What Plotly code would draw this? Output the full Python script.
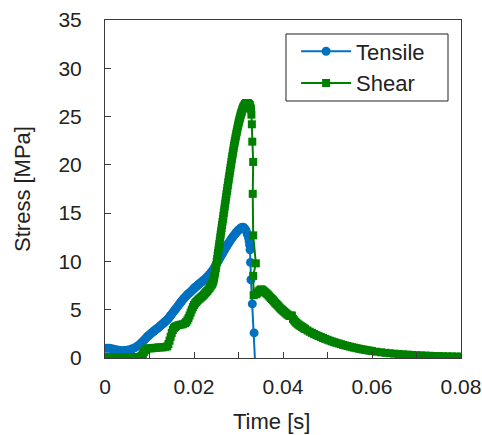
import plotly.graph_objects as go

# Tensile series (time [s], stress [MPa])
tensile_t = [0, 0.0005, 0.001, 0.0015, 0.002, 0.0025, 0.003, 0.0035, 0.004, 0.0045,
             0.005, 0.0055, 0.006, 0.0065, 0.007, 0.0075,
             0.008, 0.00825, 0.0085, 0.00875, 0.009, 0.00925, 0.0095, 0.00975,
             0.010, 0.01025, 0.0105, 0.01075, 0.011, 0.01125, 0.0115, 0.01175,
             0.012, 0.01225, 0.0125, 0.01275, 0.013, 0.01325, 0.0135, 0.01375,
             0.014, 0.01425, 0.0145, 0.01475, 0.015, 0.01525, 0.0155, 0.01575,
             0.016, 0.01625, 0.0165, 0.01675, 0.017, 0.01725, 0.0175, 0.01775,
             0.018, 0.01825, 0.0185, 0.01875, 0.019, 0.01925, 0.0195, 0.01975,
             0.020, 0.02025, 0.0205, 0.02075, 0.021, 0.02125, 0.0215, 0.02175,
             0.022, 0.02225, 0.0225, 0.02275, 0.023, 0.02325, 0.0235, 0.02375,
             0.024, 0.02425, 0.0245, 0.02475, 0.025, 0.02525, 0.0255, 0.02575,
             0.026, 0.02625, 0.0265, 0.02675, 0.027, 0.02725, 0.0275, 0.02775,
             0.028, 0.02825, 0.0285, 0.02875, 0.029, 0.02925, 0.0295, 0.02975,
             0.030, 0.03025, 0.0305, 0.03075, 0.031, 0.03125, 0.0315, 0.03175,
             0.032, 0.03225, 0.0324, 0.0325, 0.0326, 0.0327, 0.0328, 0.0331,
             0.0335, 0.0339]
tensile_s = [1.00, 1.02, 1.00, 0.95, 0.90, 0.85, 0.80, 0.78, 0.76, 0.77,
             0.80, 0.85, 0.92, 1.02, 1.15, 1.30,
             1.48, 1.59, 1.70, 1.82, 1.95, 2.08, 2.20, 2.30,
             2.40, 2.50, 2.60, 2.70, 2.80, 2.89, 2.98, 3.06,
             3.15, 3.25, 3.35, 3.45, 3.55, 3.65, 3.75, 3.86,
             3.98, 4.11, 4.25, 4.40, 4.55, 4.70, 4.85, 5.00,
             5.15, 5.30, 5.45, 5.60, 5.75, 5.90, 6.05, 6.18,
             6.30, 6.43, 6.55, 6.65, 6.75, 6.85, 6.95, 7.08,
             7.20, 7.30, 7.40, 7.50, 7.60, 7.70, 7.80, 7.89,
             7.98, 8.08, 8.18, 8.29, 8.40, 8.52, 8.65, 8.80,
             8.95, 9.12, 9.30, 9.50, 9.70, 9.90, 10.10, 10.30,
             10.50, 10.70, 10.90, 11.10, 11.30, 11.50, 11.70, 11.88,
             12.05, 12.23, 12.40, 12.55, 12.70, 12.85, 13.00, 13.13,
             13.25, 13.35, 13.45, 13.52, 13.55, 13.48, 13.35, 13.12,
             12.80, 12.45, 12.10, 11.70, 11.20, 9.90, 8.10, 5.60,
             2.60, -2.00]

# Shear series (time [s], stress [MPa])
shear_t = [0, 0.0005, 0.001, 0.0015, 0.002, 0.0025, 0.003, 0.0035, 0.004, 0.0045,
           0.005, 0.0055, 0.006, 0.0065, 0.007, 0.0075,
           0.008, 0.00825, 0.0085, 0.00875, 0.009, 0.00925, 0.0095,
           0.010, 0.0105, 0.011, 0.0115, 0.012, 0.0125, 0.013, 0.0135, 0.014,
           0.01425, 0.0145, 0.01475, 0.015, 0.01525, 0.0155, 0.01575, 0.016,
           0.0165, 0.017, 0.0175, 0.018, 0.01825, 0.0185, 0.01875, 0.019,
           0.01925, 0.0195, 0.01975, 0.020, 0.02025, 0.0205, 0.02075, 0.021,
           0.02125, 0.0215, 0.02175, 0.022, 0.02225, 0.0225, 0.02275, 0.023,
           0.02325, 0.0235, 0.02375, 0.0240,
           0.0241, 0.0242, 0.0243, 0.0244, 0.0245, 0.0246, 0.0247, 0.0248, 0.0249, 0.0250,
           0.0251, 0.0252, 0.0253, 0.0254, 0.0255, 0.0256, 0.0257, 0.0258, 0.0259, 0.0260,
           0.0261, 0.0262, 0.0263, 0.0264, 0.0265, 0.0266, 0.0267, 0.0268, 0.0269, 0.0270,
           0.0271, 0.0272, 0.0273, 0.0274, 0.0275, 0.0276, 0.0277, 0.0278, 0.0279, 0.0280,
           0.0281, 0.0282, 0.0283, 0.0284, 0.0285, 0.0286, 0.0287, 0.0288, 0.0289, 0.0290,
           0.0291, 0.0292, 0.0293, 0.0294, 0.0295, 0.0296, 0.0297, 0.0298, 0.0299, 0.0300,
           0.0301, 0.0302, 0.0303, 0.0304, 0.0305, 0.0306, 0.0307, 0.0308, 0.0309, 0.0310,
           0.0311, 0.0312, 0.0313, 0.0314, 0.0315, 0.0316, 0.0317, 0.0318, 0.0319, 0.0320,
           0.0321, 0.0322, 0.0323, 0.0324, 0.0325, 0.0326, 0.0327, 0.0328, 0.0329, 0.0330,
           0.0331, 0.0333, 0.0332, 0.0333, 0.0339, 0.0333, 0.0334,
           0.0340, 0.03425, 0.0345, 0.03475, 0.0350, 0.03525, 0.0355, 0.03575,
           0.0360, 0.03625, 0.0365, 0.03675, 0.0370, 0.03725, 0.0375, 0.03775,
           0.0380, 0.03825, 0.0385, 0.03875, 0.0390, 0.03925, 0.0395, 0.03975,
           0.0400, 0.04025, 0.0405, 0.04075, 0.0410, 0.04125, 0.0415, 0.04175,
           0.0420, 0.04225, 0.0425, 0.04275, 0.0430, 0.04325, 0.0435, 0.04375,
           0.0440, 0.04425, 0.0445, 0.04475, 0.0450,
           0.0455, 0.046, 0.0465, 0.047, 0.0475, 0.048, 0.0485, 0.049, 0.0495, 0.050,
           0.0505, 0.051, 0.0515, 0.052, 0.0525, 0.053, 0.0535, 0.054, 0.0545, 0.055,
           0.0555, 0.056, 0.0565, 0.057, 0.0575, 0.058, 0.0585, 0.059, 0.0595, 0.060,
           0.061, 0.062, 0.063, 0.064, 0.065, 0.066, 0.067, 0.068, 0.069, 0.070,
           0.071, 0.072, 0.073, 0.074, 0.075, 0.076, 0.077, 0.078, 0.079, 0.080]
shear_s = [0.10, 0.10, 0.10, 0.10, 0.10, 0.10, 0.10, 0.10, 0.10, 0.10,
           0.10, 0.10, 0.10, 0.10, 0.10, 0.10,
           0.15, 0.25, 0.40, 0.60, 0.80, 0.92, 1.00,
           1.00, 1.00, 1.05, 1.05, 1.10, 1.10, 1.10, 1.15, 1.20,
           1.45, 1.80, 2.20, 2.60, 2.90, 3.10, 3.22, 3.30,
           3.40, 3.45, 3.50, 3.60, 3.72, 3.90, 4.12, 4.40,
           4.70, 5.00, 5.27, 5.50, 5.66, 5.80, 5.93, 6.05,
           6.15, 6.25, 6.35, 6.45, 6.57, 6.70, 6.82, 6.95,
           7.10, 7.25, 7.42, 7.60,
           7.70, 7.82, 7.95, 8.10, 8.30, 8.55, 8.80, 9.05, 9.32, 9.60,
           9.92, 10.24, 10.56, 10.88, 11.20, 11.52, 11.84, 12.16, 12.48, 12.80,
           13.12, 13.44, 13.76, 14.08, 14.40, 14.72, 15.04, 15.36, 15.68, 16.00,
           16.32, 16.64, 16.96, 17.28, 17.60, 17.90, 18.20, 18.50, 18.80, 19.10,
           19.40, 19.70, 20.00, 20.30, 20.60, 20.88, 21.16, 21.44, 21.72, 22.00,
           22.24, 22.48, 22.72, 22.96, 23.20, 23.42, 23.64, 23.86, 24.08, 24.30,
           24.48, 24.66, 24.84, 25.02, 25.20, 25.34, 25.48, 25.62, 25.76, 25.90,
           25.98, 26.06, 26.14, 26.22, 26.30, 26.34, 26.38, 26.40, 26.40, 26.40,
           26.38, 26.34, 26.30, 26.25, 26.20, 26.05, 25.90, 25.75, 25.20, 24.20,
           22.40, 20.30, 17.00, 12.70, 9.80, 8.50, 6.50,
           6.60, 6.75, 6.90, 7.00, 7.10, 7.08, 7.00, 6.90,
           6.80, 6.70, 6.60, 6.48, 6.35, 6.22, 6.10, 5.98,
           5.85, 5.72, 5.60, 5.48, 5.35, 5.22, 5.10, 5.00,
           4.90, 4.80, 4.70, 4.60, 4.50, 4.42, 4.35, 4.38,
           4.40, 4.05, 3.90, 3.77, 3.65, 3.55, 3.45, 3.37,
           3.30, 3.22, 3.15, 3.07, 3.00,
           2.85, 2.72, 2.60, 2.48, 2.37, 2.27, 2.17, 2.07, 1.98, 1.89,
           1.80, 1.72, 1.64, 1.57, 1.50, 1.43, 1.36, 1.30, 1.24, 1.18,
           1.12, 1.07, 1.02, 0.97, 0.92, 0.88, 0.84, 0.80, 0.76, 0.72,
           0.65, 0.59, 0.54, 0.49, 0.45, 0.41, 0.38, 0.35, 0.32, 0.29,
           0.27, 0.25, 0.23, 0.21, 0.20, 0.18, 0.17, 0.16, 0.15, 0.14]

x_ticks = [0, 0.02, 0.04, 0.06, 0.08]
x_tick_labels = ["0", "0.02", "0.04", "0.06", "0.08"]
y_ticks = [0, 5, 10, 15, 20, 25, 30, 35]

FONT = "Liberation Sans, Arial, sans-serif"
AXIS_COLOR = "#3a3a3a"
TEXT_COLOR = "#222222"

fig = go.Figure()
fig.add_trace(go.Scatter(
    x=tensile_t, y=tensile_s, name="Tensile", mode="lines+markers",
    line=dict(color="#0070C0", width=2),
    marker=dict(symbol="circle", size=9, color="#0070C0"),
    legendgroup="a",
))
fig.add_trace(go.Scatter(
    x=shear_t, y=shear_s, name="Shear", mode="lines+markers",
    line=dict(color="#008000", width=2),
    marker=dict(symbol="square", size=8, color="#008000"),
    legendgroup="b",
))

# legend frame (drawn as a rectangle in paper coordinates)
fig.add_shape(type="rect", xref="paper", yref="paper",
              x0=0.5084, x1=0.9635, y0=0.7604, y1=0.9586,
              line=dict(color=TEXT_COLOR, width=1), fillcolor="white", layer="below")

# x-axis title (placed slightly left of centre, as in the original)
fig.add_annotation(text="Time [s]", xref="paper", yref="paper",
                   x=0.469, y=-0.189, xanchor="center", yanchor="middle",
                   showarrow=False, font=dict(family=FONT, size=22, color=TEXT_COLOR))

fig.update_layout(
    width=482, height=435,
    margin=dict(l=105, r=21, t=20, b=77, autoexpand=False),
    paper_bgcolor="white", plot_bgcolor="white",
    font=dict(family=FONT, size=21, color=TEXT_COLOR),
    showlegend=True,
    legend=dict(
        x=0.5368, y=0.969, xanchor="left", yanchor="top",
        bgcolor="rgba(0,0,0,0)", borderwidth=0,
        font=dict(family=FONT, size=22, color=TEXT_COLOR),
        tracegroupgap=0, traceorder="grouped", itemwidth=50,
    ),
    xaxis=dict(
        range=[0, 0.08], tickvals=x_ticks, ticktext=x_tick_labels,
        ticks="inside", ticklen=6, tickcolor=AXIS_COLOR,
        minor=dict(dtick=0.01, ticks="inside", ticklen=6, tickcolor=AXIS_COLOR),
        showline=True, linecolor=AXIS_COLOR, linewidth=1, mirror=True,
        showgrid=False, zeroline=False, ticklabelstandoff=10, automargin=False,
    ),
    yaxis=dict(
        range=[0, 35], tickvals=y_ticks,
        ticks="inside", ticklen=6, tickcolor=AXIS_COLOR,
        showline=True, linecolor=AXIS_COLOR, linewidth=1, mirror=True,
        showgrid=False, zeroline=False, ticklabelstandoff=18, automargin=False,
        title=dict(text="Stress [MPa]", standoff=21, font=dict(size=22)),
    ),
)

fig.write_html("out.html", config={"displayModeBar": False},
               post_script="document.body.style.margin='0';")
